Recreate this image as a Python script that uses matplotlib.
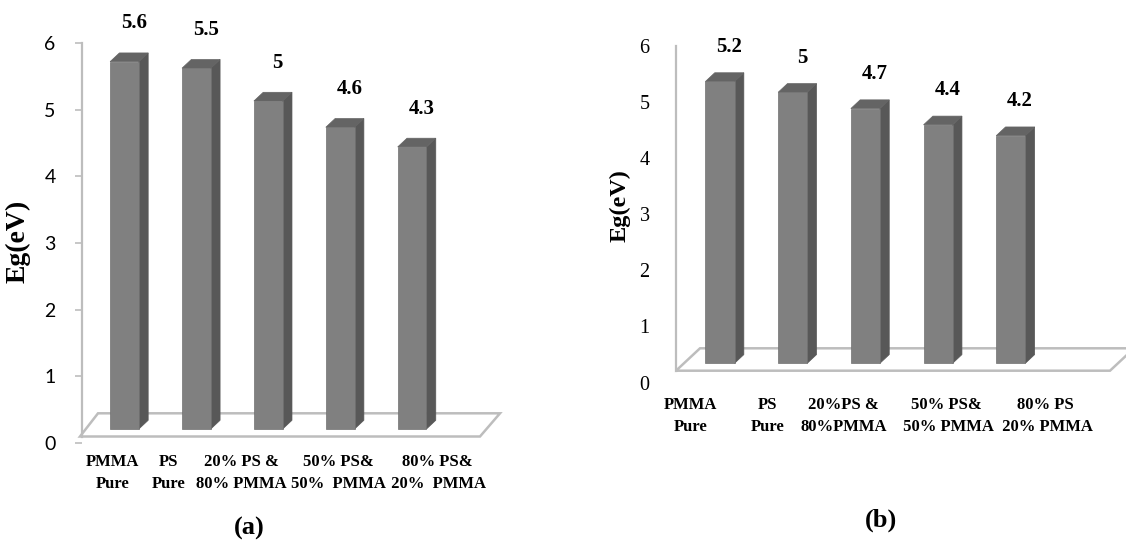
import matplotlib
matplotlib.use("Agg")
import matplotlib.pyplot as plt
from matplotlib.patches import Polygon
from matplotlib.transforms import blended_transform_factory

# ---- data ----
labels_a = ["PMMA\nPure", "PS\nPure", "20% PS &\n80% PMMA", "50% PS&\n50%  PMMA", "80% PS&\n 20%  PMMA"]
eg_a = [5.6, 5.5, 5.0, 4.6, 4.3]
text_a = ["5.6", "5.5", "5", "4.6", "4.3"]

labels_b = ["PMMA\nPure", "PS\nPure", "20%PS &\n80%PMMA", "50% PS&\n 50% PMMA", "80% PS\n 20% PMMA"]
eg_b = [5.2, 5.0, 4.7, 4.4, 4.2]
text_b = ["5.2", "5", "4.7", "4.4", "4.2"]

yticks = [0, 1, 2, 3, 4, 5, 6]

# ---- layout (pixels of the 1126x541 canvas) ----
W, H = 1126, 541
SERIF = "Liberation Serif"

panel_a = dict(left=82, right=520, top=43, bottom=443, x0=124.5, step=71.9,
               base=429, unit=65.6, floor_front=436.5, floor_back=413.3,
               floor_x=(80, 98, 500, 480), depth=(9.3, 8.7), width=0.4,
               label_shift=[-0.17, -0.385, -0.37, -0.03, 0.345], label_y=473,
               val_gap=0.45, tick_font=dict(family="Lato", size=14), ticks_out=True,
               ylabel_xy=(18, 241), ylabel_size=20, tag="(a)", tag_xy=(249, 528))

panel_b = dict(left=676, right=1126, top=46, bottom=382.5, x0=720, step=72.7,
               base=363.3, unit=54.2, floor_front=370.7, floor_back=348.3,
               floor_x=(676, 700, 1134, 1110), depth=(9.3, 8.7), width=0.4,
               label_shift=[-0.41, -0.35, -0.30, 0.12, 0.47], label_y=416,
               val_gap=0.48, tick_font=dict(family=SERIF, size=14.5), ticks_out=False,
               ylabel_xy=(620, 206), ylabel_size=17.5, tag="(b)", tag_xy=(881, 520))

FRONT, SIDE, TOP = "#808080", "#585858", "#646464"
FRAME = "#bdbdbd"

fig = plt.figure(figsize=(W / 100, H / 100), dpi=100)


def draw_panel(p, cats, values, vtext):
    rect = [p["left"] / W, 1 - p["bottom"] / H,
            (p["right"] - p["left"]) / W, (p["bottom"] - p["top"]) / H]
    xlim = ((p["left"] - p["x0"]) / p["step"], (p["right"] - p["x0"]) / p["step"])

    # frame axes: carries the 0-6 value axis
    fr = fig.add_axes(rect)
    fr.set_xlim(xlim)
    fr.set_ylim(0, 6)
    fr.set_yticks(yticks)
    fr.set_yticklabels([str(t) for t in yticks], fontfamily=p["tick_font"]["family"],
                       fontsize=p["tick_font"]["size"])
    fr.set_xticks([])
    for s in ["top", "right", "bottom"]:
        fr.spines[s].set_visible(False)
    ppu = (p["bottom"] - p["top"]) / 6
    fr.spines["left"].set_bounds((p["bottom"] - p["floor_front"]) / ppu, 6)
    fr.spines["left"].set_color(FRAME)
    fr.spines["left"].set_linewidth(1.6)
    if p["ticks_out"]:
        fr.tick_params(axis="y", length=5, width=1.2, color=FRAME, pad=14)
    else:
        fr.tick_params(axis="y", length=0, pad=19)
    fr.patch.set_visible(False)

    # bar axes: same box, scaled to the bar depth of the 3D look
    ax = fig.add_axes(rect)
    ax.set_xlim(xlim)
    ax.set_ylim(-(p["bottom"] - p["base"]) / p["unit"], (p["base"] - p["top"]) / p["unit"])
    ax.axis("off")

    def to_x(px):
        return (px - p["x0"]) / p["step"]

    def to_y(py):
        return (p["base"] - py) / p["unit"]

    # floor
    fl, bl, br, frt = [to_x(v) for v in p["floor_x"]]
    yf, yb = to_y(p["floor_front"]), to_y(p["floor_back"])
    floor = Polygon([(fl, yf), (bl, yb), (br, yb), (frt, yf)], closed=True,
                    facecolor="none", edgecolor=FRAME, linewidth=1.8, zorder=1,
                    clip_on=False)
    ax.add_patch(floor)

    dx = p["depth"][0] / p["step"]
    dy = p["depth"][1] / p["unit"]
    w = p["width"]
    xs = list(range(len(values)))
    ax.bar(xs, values, width=w, color=FRONT, edgecolor="#707070", linewidth=0.5, zorder=3)
    for x, v in zip(xs, values):
        r = x + w / 2
        l = x - w / 2
        ax.add_patch(Polygon([(r, 0), (r + dx, dy), (r + dx, v + dy), (r, v)],
                             facecolor=SIDE, edgecolor=SIDE, linewidth=0.5, zorder=2))
        ax.add_patch(Polygon([(l, v), (l + dx, v + dy), (r + dx, v + dy), (r, v)],
                             facecolor=TOP, edgecolor=TOP, linewidth=0.5, zorder=2))

    for x, v, t in zip(xs, values, vtext):
        ax.text(x + dx, v + dy + p["val_gap"], t, ha="center", va="center",
                fontfamily=SERIF, fontweight="bold", fontsize=15, clip_on=False)

    tr = blended_transform_factory(ax.transData, fig.transFigure)
    for x, c, s in zip(xs, cats, p["label_shift"]):
        ax.text(x + s, 1 - p["label_y"] / H, c, transform=tr, ha="center", va="center",
                multialignment="center", fontfamily=SERIF, fontweight="bold",
                fontsize=12, linespacing=1.45, clip_on=False)

    fig.text(p["ylabel_xy"][0] / W, 1 - p["ylabel_xy"][1] / H, "Eg(eV)", rotation=90,
             ha="center", va="center", fontfamily=SERIF, fontweight="bold",
             fontsize=p["ylabel_size"])
    fig.text(p["tag_xy"][0] / W, 1 - p["tag_xy"][1] / H, p["tag"], ha="center",
             va="center", fontfamily=SERIF, fontweight="bold", fontsize=19)


draw_panel(panel_a, labels_a, eg_a, text_a)
draw_panel(panel_b, labels_b, eg_b, text_b)

fig.savefig("out.png", dpi=100)
